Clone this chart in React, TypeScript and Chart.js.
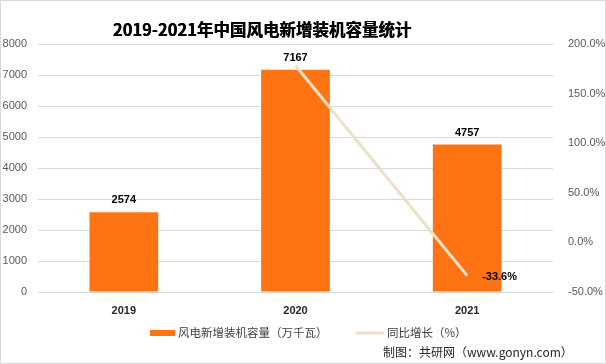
import React, { useEffect, useRef } from "react";
import { Chart, registerables } from "chart.js";

Chart.register(...registerables);

const categories = ["2019", "2020", "2021"];
const capacity = [2574, 7167, 4757];
const growth: (number | null)[] = [null, 178.4, -33.6];
const leftTicks = [0, 1000, 2000, 3000, 4000, 5000, 6000, 7000, 8000];
const rightTicks = [-50, 0, 50, 100, 150, 200];
const titleText = "2019-2021年中国风电新增装机容量统计";
const barLabel = "风电新增装机容量（万千瓦）";
const lineLabel = "同比增长（%）";
const sourceText = "制图：共研网（www.gonyn.com）";

const BAR_COLOR = "#FF7412";
const LINE_COLOR = "#EDE0C8";
const CJK = '"Noto Sans CJK SC", "Liberation Sans", sans-serif';
const NUM = '"Liberation Sans", Arial, sans-serif';

const decorPlugin = {
  id: "decor",
  afterDraw(chart: any) {
    const ctx = chart.ctx as CanvasRenderingContext2D;
    const W = chart.width;
    const H = chart.height;
    ctx.save();
    // border
    ctx.strokeStyle = "#D9D9D9";
    ctx.lineWidth = 1;
    ctx.strokeRect(0.5, 0.5, W - 1, H - 1);
    // title
    ctx.fillStyle = "#000000";
    ctx.font = `bold 16.5px ${CJK}`;
    ctx.textAlign = "center";
    ctx.textBaseline = "middle";
    ctx.fillText(titleText, 262, 30);
    ctx.fillText(titleText, 262.4, 30);

    // right axis labels, left-aligned, positioned by the y1 scale
    const y1 = chart.scales.y1;
    ctx.font = `11px ${NUM}`;
    ctx.fillStyle = "#595959";
    ctx.textAlign = "left";
    ctx.textBaseline = "middle";
    rightTicks.forEach((v) => {
      ctx.fillText(v.toFixed(1) + "%", chart.chartArea.right + 15, y1.getPixelForValue(v));
    });

    // bar labels
    const barMeta = chart.getDatasetMeta(0);
    ctx.font = `bold 11px ${NUM}`;
    ctx.fillStyle = "#000000";
    ctx.textAlign = "center";
    ctx.textBaseline = "middle";
    barMeta.data.forEach((el: any, i: number) => {
      ctx.fillText(String(capacity[i]), el.x, el.y - 12);
    });
    // line label (last point)
    const lineMeta = chart.getDatasetMeta(1);
    const last = lineMeta.data[2];
    ctx.textAlign = "left";
    ctx.fillText(growth[2]!.toFixed(1) + "%", last.x + 15, last.y + 1);

    // legend
    const ly = 333;
    ctx.fillStyle = BAR_COLOR;
    ctx.fillRect(150, ly - 3, 25, 6);
    ctx.font = `11.5px ${CJK}`;
    ctx.fillStyle = "#404040";
    ctx.textAlign = "left";
    ctx.textBaseline = "middle";
    ctx.fillText(barLabel, 178, ly);
    ctx.strokeStyle = LINE_COLOR;
    ctx.lineWidth = 3;
    ctx.beginPath();
    ctx.moveTo(356, ly);
    ctx.lineTo(384, ly);
    ctx.stroke();
    ctx.fillText(lineLabel, 387, ly);

    // source
    ctx.font = `12px ${CJK}`;
    ctx.fillStyle = "#262626";
    ctx.fillText(sourceText, 383, 352);
    ctx.restore();
  },
};

export default function App() {
  const ref = useRef<HTMLCanvasElement | null>(null);
  useEffect(() => {
    document.body.style.margin = "0";
    const chart = new Chart(ref.current!, {
      type: "bar",
      data: {
        labels: categories,
        datasets: [
          {
            type: "bar",
            label: barLabel,
            data: capacity,
            backgroundColor: BAR_COLOR,
            barPercentage: 0.4,
            categoryPercentage: 1,
            yAxisID: "y",
            order: 2,
          },
          {
            type: "line",
            label: lineLabel,
            data: growth,
            borderColor: LINE_COLOR,
            backgroundColor: LINE_COLOR,
            borderWidth: 3,
            pointRadius: 0,
            tension: 0,
            yAxisID: "y1",
            order: 1,
          },
        ],
      },
      options: {
        animation: false,
        responsive: false,
        maintainAspectRatio: false,
        layout: { padding: { top: 44, left: 0, right: 0, bottom: 0 } },
        plugins: {
          legend: { display: false },
          title: { display: false },
          tooltip: { enabled: false },
        },
        scales: {
          x: {
            grid: { display: false, drawTicks: false },
            border: { display: false },
            ticks: {
              color: "#262626",
              font: { family: NUM, size: 11, weight: "bold" },
              padding: 12,
            },
            afterFit(axis: any) {
              axis.height = 72;
            },
          },
          y: {
            position: "left",
            min: 0,
            max: 8000,
            afterBuildTicks(axis: any) {
              axis.ticks = leftTicks.map((v) => ({ value: v }));
            },
            grid: { color: "#D9D9D9", drawTicks: false },
            border: { display: false },
            ticks: {
              color: "#595959",
              font: { family: NUM, size: 11 },
              padding: 11,
              callback: (v: any) => String(v),
            },
            afterFit(axis: any) {
              axis.width = 38;
            },
          },
          y1: {
            position: "right",
            min: -50,
            max: 200,
            afterBuildTicks(axis: any) {
              axis.ticks = rightTicks.map((v) => ({ value: v }));
            },
            grid: { display: false, drawTicks: false },
            border: { display: false },
            ticks: { display: false },
            afterFit(axis: any) {
              axis.width = 53;
            },
          },
        },
      },
      plugins: [decorPlugin],
    });
    return () => chart.destroy();
  }, []);
  return (
    <div style={{ position: "fixed", left: 0, top: 0, width: 606, height: 364, background: "#fff" }}>
      <canvas ref={ref} width={606} height={364} style={{ width: 606, height: 364 }} />
    </div>
  );
}
